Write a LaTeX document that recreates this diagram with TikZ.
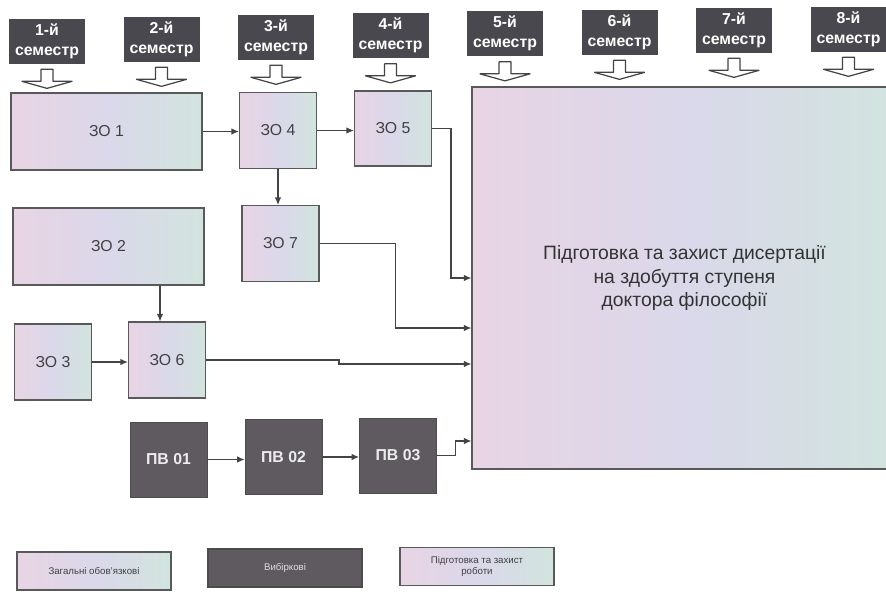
\documentclass[tikz,border=0pt]{standalone}
\usepackage{fontspec}
\setmainfont{Liberation Sans}
\usepackage{tikz}
\usetikzlibrary{arrows.meta,positioning,calc}

\definecolor{semgray}{RGB}{72,72,78}
\definecolor{vibgray}{RGB}{94,90,96}
\definecolor{pastelA}{RGB}{232,212,228}
\definecolor{pastelM}{RGB}{218,216,234}
\definecolor{pastelB}{RGB}{210,228,222}
\definecolor{linegray}{RGB}{68,68,68}

\begin{document}
\begin{tikzpicture}[font=\small,>=Latex]
  \tikzset{
    sem/.style={draw=semgray, fill=semgray, text=white, align=center, inner sep=1pt,
      font=\bfseries\fontsize{9}{11.4}\selectfont, minimum width=1.5cm, minimum height=0.88cm},
    hollow/.style={draw=linegray, fill=white, line width=0.7pt, line join=round},
    zo/.style={draw=gray!70!black, line width=0.6pt, left color=pastelA, right color=pastelB,
      middle color=pastelM, text=black!75, font=\fontsize{9}{11}\selectfont,
      minimum width=1.54cm, minimum height=1.52cm, inner sep=0pt},
    zowide/.style={zo, minimum width=3.82cm, minimum height=1.54cm},
    pv/.style={draw=gray!60!black, fill=vibgray, text=gray!15, font=\bfseries\fontsize{9}{11}\selectfont,
      minimum width=1.54cm, minimum height=1.5cm},
    diss/.style={zo, minimum width=8.5cm, minimum height=7.64cm, align=center,
      text=black!80, font=\fontsize{11}{13.6}\selectfont},
    legend/.style={minimum width=3.08cm, minimum height=0.76cm, align=center, line width=1pt,
      inner sep=1pt, font=\fontsize{5.5}{6.5}\selectfont},
    arr/.style={draw=linegray, line width=0.7pt, -{Latex[length=1.5mm,width=1.3mm]}}
  }
  \useasboundingbox (0,0) rectangle (17.72,-11.82);

  % semester headers with their hollow arrows
  \foreach \i/\x/\y in {1/0.94/-0.82, 2/3.23/-0.78, 3/5.52/-0.74, 4/7.81/-0.71,
                        5/10.1/-0.67, 6/12.39/-0.64, 7/14.68/-0.6, 8/16.97/-0.58} {
    \node[sem] (s\i) at (\x,\y) {\i-й\\семестр};
    \draw[hollow, shift={(s\i.south)}] (-0.12,-0.12) -- (-0.12,-0.36) -- (-0.5,-0.36) -- (0,-0.5)
      -- (0.5,-0.36) -- (0.12,-0.36) -- (0.12,-0.12) -- cycle;
  }

  % general compulsory courses
  \node[zowide] (zo1) at (2.13,-2.63) {ЗО 1};
  \node[zo] (zo4) at (5.56,-2.61) {ЗО 4};
  \node[zo,minimum height=1.5cm] (zo5) at (7.86,-2.57) {ЗО 5};
  \node[zo] (zo7) at (5.61,-4.87) {ЗО 7};
  \node[zowide] (zo2) at (2.17,-4.93) {ЗО 2};
  \node[zo] (zo3) at (1.06,-7.24) {ЗО 3};
  \node[zo] (zo6) at (3.34,-7.2) {ЗО 6};

  % elective courses
  \node[pv] (pv1) at (3.37,-9.19) {ПВ 01};
  \node[pv] (pv2) at (5.67,-9.14) {ПВ 02};
  \node[pv] (pv3) at (7.96,-9.11) {ПВ 03};

  % dissertation, running off the right edge
  \node[diss] (dis) at (13.69,-5.56) {Підготовка та захист дисертації\\на здобуття ступеня\\доктора філософії};

  % connectors
  \draw[arr] (zo1.east) -- (zo1.east -| zo4.west);
  \draw[arr] (zo4.east) -- (zo4.east -| zo5.west);
  \draw[arr] (zo4.south) -- (zo4.south |- zo7.north);
  \coordinate (zo6in) at ($(zo6.north)+(-0.14,0)$);
  \draw[arr] (zo6in |- zo2.south) -- (zo6in);
  \draw[arr] (zo3.east) -- (zo3.east -| zo6.west);
  \draw[arr] (pv1.east) -- (pv1.east -| pv2.west);
  \draw[arr] (pv2.east) -- (pv2.east -| pv3.west);
  \draw[arr] (zo5.east) -- ++(0.38,0) |- (dis.west);
  \draw[arr] (zo7.east) -- ++(1.52,0) |- ($(dis.west)+(0,-1.0)$);
  \draw[arr] (zo6.east) -- ++(2.66,0) |- ($(dis.west)+(0,-1.72)$);
  \draw[arr] (pv3.east) -- ++(0.38,0) |- ($(dis.west)+(0,-3.26)$);

  % legend
  \node[zo, legend] (lz) at (1.88,-11.42) {Загальні обов'язкові};
  \node[pv, legend, text=gray!25, font=\fontsize{5.5}{6.5}\selectfont] (lv) at (5.7,-11.36) {Вибіркові};
  \node[zo, legend] (lp) at (9.54,-11.33) {Підготовка та захист\\роботи};
\end{tikzpicture}
\end{document}
